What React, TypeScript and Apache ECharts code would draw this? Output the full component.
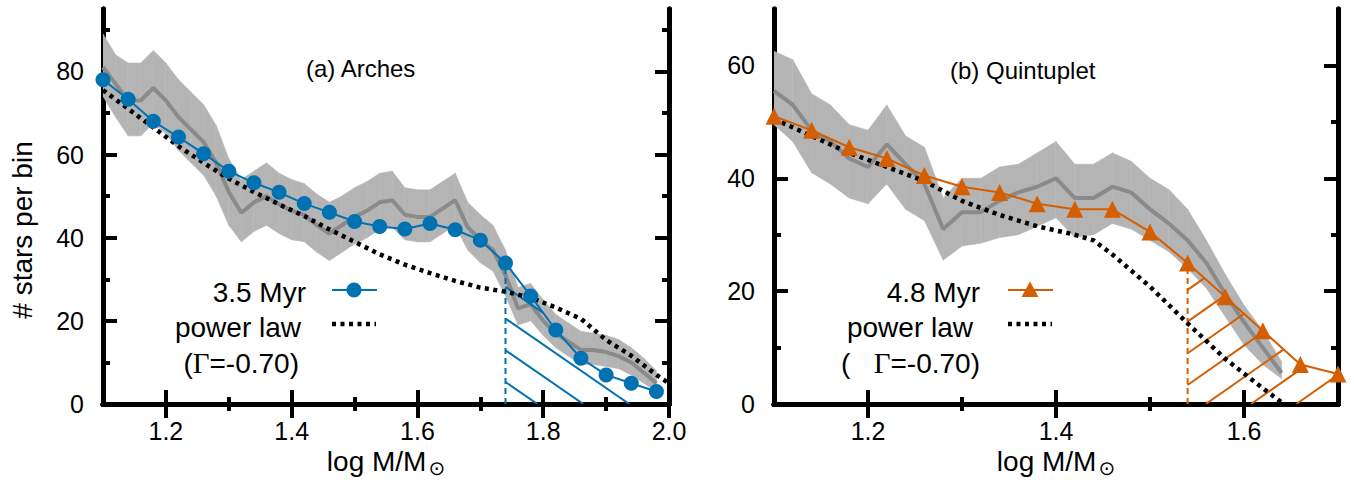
import React, { useEffect, useRef } from 'react';
import * as echarts from 'echarts';

// ---------- DATA ----------
const archesBandX = [1.10,1.12,1.14,1.16,1.18,1.20,1.22,1.24,1.26,1.28,1.30,1.32,1.34,1.36,1.38,1.40,1.42,1.44,1.46,1.48,1.50,1.52,1.54,1.56,1.58,1.60,1.62,1.64,1.66,1.68,1.70,1.72,1.74,1.76,1.78,1.80,1.82,1.84,1.86,1.88,1.90,1.92,1.94,1.96,1.98];
const archesMedian = [81,77,73,73,76,73,69,66,63,58,51,46,48.5,50,48,46.5,45.5,43,41,43,45,46.5,48.5,49,45.5,45,45,47,49,42.5,39.5,37,31,23,24,20,17,15,13,13,12.5,11.5,10,7.5,5];
const archesUpper = [89,84,82,82,85,82,78,75,72,67,59,54,56,58,55.5,54,53,50.5,48.5,50,52,53.5,55.5,56,52,51.5,51.5,53.5,55.5,48.5,45.5,43,37,28,29,25,21.5,19.5,17.5,17,16.5,15.5,13.5,11,8];
const archesLower = [74,69,64.5,64.5,67.5,65,61,58,55,50,43,39,41.5,43,41,39.5,39,36.5,34.5,36.5,38.5,40,42,42.5,39.5,39,39,41,43,37,34,32,26,19,20,16.5,13.5,11.5,9.5,9.5,9,8.5,7,5,3];
const archesModelX = [1.10,1.14,1.18,1.22,1.26,1.30,1.34,1.38,1.42,1.46,1.50,1.54,1.58,1.62,1.66,1.70,1.74,1.78,1.82,1.86,1.90,1.94,1.98];
const archesModelY = [78,73.3,68,64.2,60.2,56,53.2,50.9,48.2,46.1,43.9,42.7,42.1,43.4,41.9,39.4,33.9,26,17.8,11,7,5,3];
const archesPowX = [1.10,1.14,1.18,1.22,1.26,1.30,1.34,1.38,1.42,1.46,1.50,1.54,1.58,1.62,1.66,1.70,1.74,1.78,1.82,1.86,1.90,1.94,1.98,2.00];
const archesPowY = [75.5,71,66.5,62,58,54.2,51,48,45.2,42,39,36,33.5,31.5,29.6,28,27,25.6,23.2,20.5,15.4,11.6,7,5];
const archesCut = 1.74;

const quintBandX = [1.10,1.12,1.14,1.16,1.18,1.20,1.22,1.24,1.26,1.28,1.30,1.32,1.34,1.36,1.38,1.40,1.42,1.44,1.46,1.48,1.50,1.52,1.54,1.56,1.58,1.60,1.62,1.64];
const quintMedian = [55.5,53,48.5,46.5,43.5,42,46,42.5,39,31,34,34,36,37.5,38.5,40,36.5,36.5,38.5,37.5,34.5,32,29,25,19.5,14.5,10,5.5];
const quintUpper = [62.5,61,55,53,49.5,48.5,53,47.5,45.5,36.5,40,40,42,42.5,44.5,46.5,42.5,42.5,44.5,43,40,38,34.5,29,23,17.5,13,7.5];
const quintLower = [49.5,46.5,41,39,36.5,35.5,39,34.5,32.5,25.5,28,28.5,29.5,30,31.5,33,29.5,30,32,31,29,27,24,20.5,15.5,10.5,7,4.5];
const quintModelX = [1.10,1.14,1.18,1.22,1.26,1.30,1.34,1.38,1.42,1.46,1.50,1.54,1.58,1.62,1.66,1.70];
const quintModelY = [51,48.5,45.5,43.5,40.5,38.5,37.5,35.5,34.5,34.5,30.5,25,19,13,7,5.3];
const quintPowX = [1.10,1.14,1.18,1.22,1.26,1.30,1.34,1.38,1.42,1.44,1.46,1.50,1.54,1.58,1.62,1.64];
const quintPowY = [50.5,47.5,44.5,42,39.5,36,33.5,31.5,30,29,26.5,20.8,14.3,8,2.8,0.3];
const quintCut = 1.54;

const archesXMajor = [1.2,1.4,1.6,1.8,2.0];
const archesXMinor = [1.3,1.5,1.7,1.9];
const archesYMajor = [0,20,40,60,80];
const archesYMinor = [10,30,50,70,90];
const quintXMajor = [1.2,1.4,1.6];
const quintXMinor = [1.3,1.5];
const quintYMajor = [0,20,40,60];
const quintYMinor = [10,30,50];

const BLUE = '#0072B2';
const ORANGE = '#D55E00';
const FONT = '"Liberation Sans", Arial, Helvetica, sans-serif';
const SERIF = '"Liberation Serif", "Times New Roman", serif';

const zip = (xs: number[], ys: number[]) => xs.map((x, i) => [x, ys[i]]);

function bandSeries(xi: number, yi: number, xs: number[], lo: number[], hi: number[]) {
  const data = xs.slice(0, -1).map((x, i) => [x, xs[i + 1], lo[i], hi[i], lo[i + 1], hi[i + 1]]);
  return {
    type: 'custom', xAxisIndex: xi, yAxisIndex: yi, silent: true, clip: true, z: 1,
    dimensions: ['x0', 'x1', 'l0', 'h0', 'l1', 'h1'],
    encode: { x: [0, 1], y: [2, 3, 4, 5] },
    data,
    renderItem: (params: any, api: any) => {
      const x0 = api.value(0), x1 = api.value(1);
      const p1 = api.coord([x0, api.value(3)]);
      const p2 = api.coord([x1, api.value(5)]);
      const p3 = api.coord([x1, api.value(4)]);
      const p4 = api.coord([x0, api.value(2)]);
      const last = params.dataIndex === data.length - 1;
      const children: any[] = [
        { type: 'polygon', shape: { points: [p1, p2, p3, p4] }, style: { fill: '#b4b4b4', stroke: '#b4b4b4', lineWidth: 0.6 } },
      ];
      if (!last) children.push({ type: 'line', shape: { x1: p2[0], y1: p2[1], x2: p3[0], y2: p3[1] }, style: { stroke: '#c8c8c8', lineWidth: 1 } });
      return { type: 'group', children };
    },
  };
}

function hatchSeries(xi: number, yi: number, xs: number[], ys: number[], cut: number, color: string, slope: number, phase: number) {
  const iCut = xs.findIndex((x) => Math.abs(x - cut) < 1e-9);
  return {
    type: 'custom', xAxisIndex: xi, yAxisIndex: yi, silent: true, clip: true, z: 3,
    data: [[cut, 0]],
    renderItem: (params: any, api: any) => {
      const base = api.coord([cut, 0]);
      const pts: number[][] = [base];
      for (let i = iCut; i < xs.length; i++) pts.push(api.coord([xs[i], ys[i]]));
      pts.push(api.coord([xs[xs.length - 1], 0]));
      const cs = pts.map((p) => p[1] - slope * p[0]);
      const cmin = Math.min(...cs), cmax = Math.max(...cs);
      const sp = 31.7;
      const c0 = base[1] - phase - slope * base[0];
      const kmin = Math.floor((cmin - c0) / sp) - 1, kmax = Math.ceil((cmax - c0) / sp) + 1;
      const children: any[] = [];
      for (let k = kmin; k <= kmax; k++) {
        const c = c0 + k * sp;
        const hits: number[][] = [];
        for (let j = 0; j < pts.length; j++) {
          const a = pts[j], b = pts[(j + 1) % pts.length];
          const fa = a[1] - slope * a[0] - c, fb = b[1] - slope * b[0] - c;
          if ((fa < 0) !== (fb < 0)) {
            const t = fa / (fa - fb);
            hits.push([a[0] + t * (b[0] - a[0]), a[1] + t * (b[1] - a[1])]);
          }
        }
        hits.sort((p, q) => p[0] - q[0]);
        for (let m = 0; m + 1 < hits.length; m += 2) {
          children.push({ type: 'line', shape: { x1: hits[m][0], y1: hits[m][1], x2: hits[m + 1][0], y2: hits[m + 1][1] }, style: { stroke: color, lineWidth: 2 } });
        }
      }
      return { type: 'group', children };
    },
  };
}

// four axes per side-pair: labelled bottom/left axes carry major ticks; extra axes carry minor and mirrored ticks
function axesFor(g: number, xmin: number, xmax: number, xMaj: number[], xMin: number[], ymin: number, ymax: number, yMaj: number[], yMin: number[]) {
  const base = { type: 'value', gridIndex: g, splitLine: { show: false }, axisLine: { show: true, lineStyle: { color: '#000', width: 5 } } };
  const tick = (vals: number[], len: number) => ({ show: true, inside: true, length: len, customValues: vals, lineStyle: { color: '#000', width: 4 } });
  const noLabel = { show: false };
  const lbl = (vals: number[], fmt: (v: number) => string, margin: number) => ({
    show: true, customValues: vals, formatter: fmt, margin, fontSize: 25, color: '#000', fontFamily: FONT,
  });
  const xs = [
    {
      ...base, position: 'bottom', min: xmin, max: xmax, axisTick: tick(xMaj, 14),
      axisLabel: lbl(xMaj, (v) => v.toFixed(1), 14),
      name: 'log M/M{s|⊙}', nameLocation: 'middle', nameGap: 36,
      nameTextStyle: { fontSize: 28, fontFamily: FONT, color: '#000', rich: { s: { fontSize: 20, fontFamily: '"DejaVu Sans", sans-serif', padding: [12, 0, 0, 2] } } },
    },
    { ...base, position: 'bottom', min: xmin, max: xmax, axisTick: tick(xMin, 7), axisLabel: noLabel },
    { ...base, position: 'top', min: xmin, max: xmax, axisTick: tick(xMaj, 14), axisLabel: noLabel },
    { ...base, position: 'top', min: xmin, max: xmax, axisTick: tick(xMin, 7), axisLabel: noLabel },
  ];
  const ys = [
    { ...base, position: 'left', min: ymin, max: ymax, axisTick: tick(yMaj, 14), axisLabel: lbl(yMaj, (v) => String(Math.round(v)), 19) },
    { ...base, position: 'left', min: ymin, max: ymax, axisTick: tick(yMin, 7), axisLabel: noLabel },
    { ...base, position: 'right', min: ymin, max: ymax, axisTick: tick(yMaj, 14), axisLabel: noLabel },
    { ...base, position: 'right', min: ymin, max: ymax, axisTick: tick(yMin, 7), axisLabel: noLabel },
  ];
  return { xs, ys };
}

function panelSeries(xi: number, yi: number, bx: number[], med: number[], lo: number[], hi: number[], mx: number[], my: number[], px: number[], py: number[], cut: number, color: string, symbol: string, symbolSize: number, slope: number, phase: number) {
  const iCut = mx.findIndex((x) => Math.abs(x - cut) < 1e-9);
  return [
    bandSeries(xi, yi, bx, lo, hi),
    { type: 'line', xAxisIndex: xi, yAxisIndex: yi, data: zip(bx, med), symbol: 'none', silent: true, z: 2, lineStyle: { color: '#8a8a8a', width: 4 } },
    hatchSeries(xi, yi, mx, my, cut, color, slope, phase),
    { type: 'line', xAxisIndex: xi, yAxisIndex: yi, data: [[cut, 0], [cut, my[iCut]]], symbol: 'none', silent: true, z: 3, lineStyle: { color, width: 2, type: [6, 4] } },
    { type: 'line', xAxisIndex: xi, yAxisIndex: yi, data: zip(px, py), symbol: 'none', silent: true, z: 4, lineStyle: { color: '#000', width: 4.5, type: [4, 4.5], cap: 'butt' } },
    { type: 'line', xAxisIndex: xi, yAxisIndex: yi, data: zip(mx, my), symbol, symbolSize, silent: true, z: 5, itemStyle: { color }, lineStyle: { color, width: 2 } },
  ];
}

export default function App() {
  const ref = useRef<HTMLDivElement>(null);
  useEffect(() => {
    if (!ref.current) return;
    const chart = echarts.init(ref.current, undefined, { renderer: 'svg' });
    const a = axesFor(0, 1.1, 2.0, archesXMajor, archesXMinor, 0, 95, archesYMajor, archesYMinor);
    const b = axesFor(1, 1.1, 1.7, quintXMajor, quintXMinor, 0, 70, quintYMajor, quintYMinor);
    const txt = (text: string, x: number, y: number, size: number, align: string, rich?: any) => ({
      type: 'text', x, y, silent: true,
      style: { text, fontSize: size, fontFamily: FONT, fill: '#000', textAlign: align, textVerticalAlign: 'middle', align, verticalAlign: 'middle', rich },
    });
    const gRich = { g: { fontFamily: SERIF, fontSize: 29 } };
    const option: any = {
      animation: false,
      backgroundColor: '#fff',
      textStyle: { fontFamily: FONT },
      grid: [
        { left: 103, top: 9, width: 566, height: 395, show: false, outerBoundsMode: 'none', containLabel: false },
        { left: 774, top: 9, width: 564, height: 395, show: false, outerBoundsMode: 'none', containLabel: false },
      ],
      xAxis: [...a.xs, ...b.xs],
      yAxis: [...a.ys, ...b.ys],
      series: [
        ...panelSeries(0, 0, archesBandX, archesMedian, archesLower, archesUpper, archesModelX, archesModelY, archesPowX, archesPowY, archesCut, BLUE, 'circle', 15, 0.69, 22),
        ...panelSeries(4, 4, quintBandX, quintMedian, quintLower, quintUpper, quintModelX, quintModelY, quintPowX, quintPowY, quintCut, ORANGE, 'triangle', 17, -0.7, 19),
      ],
      graphic: [
        { type: 'text', x: 22, y: 230, rotation: Math.PI / 2, silent: true,
          style: { text: '# stars per bin', fontSize: 28, fontFamily: FONT, fill: '#000', textAlign: 'center', textVerticalAlign: 'middle', align: 'center', verticalAlign: 'middle' } },
        txt('(a) Arches', 306, 68, 24, 'left'),
        txt('(b) Quintuplet', 950, 70, 24, 'left'),
        txt('3.5 Myr', 306, 292, 28, 'right'),
        { type: 'line', silent: true, shape: { x1: 332, y1: 290, x2: 377, y2: 290 }, style: { stroke: BLUE, lineWidth: 2 } },
        { type: 'circle', silent: true, shape: { cx: 354, cy: 290, r: 7.5 }, style: { fill: BLUE } },
        txt('power law', 301, 327, 28, 'right'),
        { type: 'line', silent: true, shape: { x1: 332, y1: 324, x2: 376, y2: 324 }, style: { stroke: '#000', lineWidth: 4.5, lineDash: [4, 4.5] } },
        txt('({g|Γ}=-0.70)', 299, 363, 28, 'right', gRich),
        txt('4.8 Myr', 980, 292, 28, 'right'),
        { type: 'line', silent: true, shape: { x1: 1008, y1: 290, x2: 1053, y2: 290 }, style: { stroke: ORANGE, lineWidth: 2 } },
        { type: 'polygon', silent: true, shape: { points: [[1030, 281.5], [1021.5, 297], [1038.5, 297]] }, style: { fill: ORANGE } },
        txt('power law', 973, 327, 28, 'right'),
        { type: 'line', silent: true, shape: { x1: 1008, y1: 324, x2: 1052, y2: 324 }, style: { stroke: '#000', lineWidth: 4.5, lineDash: [4, 4.5] } },
        txt('(   {g|Γ}=-0.70)', 980, 363, 28, 'right', gRich),
      ],
    };
    chart.setOption(option);
    return () => chart.dispose();
  }, []);
  return <div ref={ref} style={{ position: 'fixed', left: 0, top: 0, width: 1354, height: 480 }} />;
}
